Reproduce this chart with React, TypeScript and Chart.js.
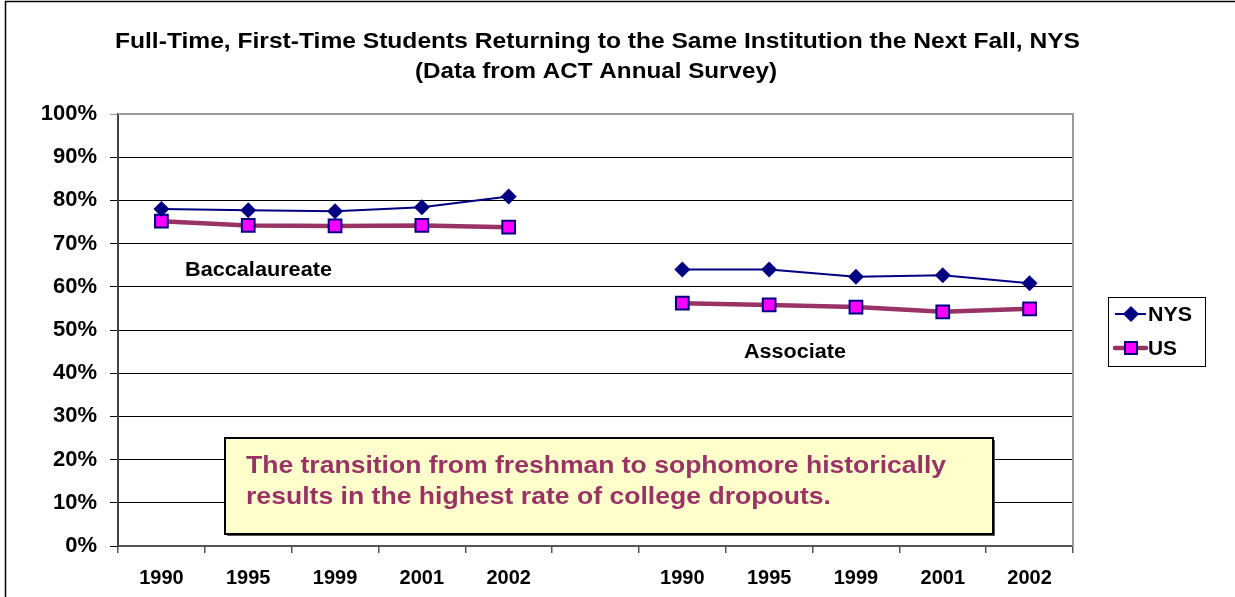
import React, { useEffect, useRef } from 'react';
import { Chart, registerables } from 'chart.js';

Chart.register(...registerables);

const categories = ['1990', '1995', '1999', '2001', '2002', '', '1990', '1995', '1999', '2001', '2002'];
const nysValues: (number | null)[] = [78.0, 77.7, 77.5, 78.4, 80.9, null, 64.0, 64.0, 62.3, 62.7, 60.8];
const usValues: (number | null)[] = [75.2, 74.2, 74.1, 74.2, 73.8, null, 56.2, 55.8, 55.3, 54.2, 54.9];
const seriesNames = ['NYS', 'US'];
const titleLines = [
  'Full-Time, First-Time Students Returning to the Same Institution the Next Fall, NYS',
  '(Data from ACT Annual Survey)',
];
const groupLabels = ['Baccalaureate', 'Associate'];
const noteLines = [
  'The transition from freshman to sophomore historically',
  'results in the highest rate of college dropouts.',
];

const FONT = '"Liberation Sans", Arial, Helvetica, sans-serif';
const NAVY = '#000080';
const PLUM = '#993366';
const MAGENTA = '#FF00FF';

function fitText(ctx: any, text: string, x: number, y: number, w: number) {
  // draw text horizontally scaled to width w starting at x (left aligned)
  const m = ctx.measureText(text).width;
  ctx.save();
  ctx.translate(x, y);
  ctx.scale(w / m, 1);
  ctx.fillText(text, 0, 0);
  ctx.restore();
}

const decorPlugin = {
  id: 'decor',
  beforeDraw(chart: any) {
    const { ctx, width, height } = chart;
    ctx.save();
    ctx.fillStyle = '#ffffff';
    ctx.fillRect(0, 0, width, height);
    ctx.strokeStyle = '#000000';
    ctx.lineWidth = 1.5;
    ctx.strokeRect(5.5, 1.5, width + 10, height + 10);
    ctx.restore();
  },
  afterDatasetsDraw(chart: any) {
    const { ctx, chartArea } = chart;
    ctx.save();
    // plot frame (top/right)
    ctx.strokeStyle = '#999999';
    ctx.lineWidth = 2;
    ctx.beginPath();
    ctx.moveTo(chartArea.left, chartArea.top);
    ctx.lineTo(chartArea.right, chartArea.top);
    ctx.lineTo(chartArea.right, chartArea.bottom);
    ctx.stroke();

    // title
    ctx.fillStyle = '#000000';
    ctx.textAlign = 'left';
    ctx.textBaseline = 'middle';
    ctx.font = `bold 22px ${FONT}`;
    fitText(ctx, titleLines[0], 115, 42, 965);
    fitText(ctx, titleLines[1], 415, 72, 362);

    // group labels
    ctx.font = `bold 20px ${FONT}`;
    fitText(ctx, groupLabels[0], 185, 270, 147);
    fitText(ctx, groupLabels[1], 744, 352, 102);

    // note box
    const bx = 225, by = 438, bw = 768, bh = 96;
    ctx.fillStyle = '#555555';
    ctx.fillRect(bx + 2, by + 2, bw, bh);
    ctx.fillStyle = '#FFFFCC';
    ctx.fillRect(bx, by, bw, bh);
    ctx.strokeStyle = '#000000';
    ctx.lineWidth = 2;
    ctx.strokeRect(bx, by, bw, bh);
    ctx.fillStyle = PLUM;
    ctx.font = `bold 24px ${FONT}`;
    fitText(ctx, noteLines[0], 246, 466, 700);
    fitText(ctx, noteLines[1], 246, 497, 585);

    // legend
    const lx = 1108, ly = 297, lw = 97, lh = 69;
    ctx.fillStyle = '#ffffff';
    ctx.fillRect(lx, ly, lw, lh);
    ctx.strokeStyle = '#000000';
    ctx.lineWidth = 1;
    ctx.strokeRect(lx + 0.5, ly + 0.5, lw, lh);
    const rows = [314, 348];
    // NYS
    ctx.strokeStyle = NAVY;
    ctx.lineWidth = 2;
    ctx.beginPath();
    ctx.moveTo(1115, rows[0]);
    ctx.lineTo(1146, rows[0]);
    ctx.stroke();
    ctx.fillStyle = NAVY;
    ctx.beginPath();
    ctx.moveTo(1131, rows[0] - 8);
    ctx.lineTo(1139, rows[0]);
    ctx.lineTo(1131, rows[0] + 8);
    ctx.lineTo(1123, rows[0]);
    ctx.closePath();
    ctx.fill();
    // US
    ctx.strokeStyle = PLUM;
    ctx.lineWidth = 4.5;
    ctx.lineCap = 'round';
    ctx.beginPath();
    ctx.moveTo(1115, rows[1]);
    ctx.lineTo(1146, rows[1]);
    ctx.stroke();
    ctx.lineCap = 'butt';
    ctx.fillStyle = MAGENTA;
    ctx.fillRect(1125, rows[1] - 6, 12, 12);
    ctx.strokeStyle = NAVY;
    ctx.lineWidth = 2;
    ctx.strokeRect(1125, rows[1] - 6, 12, 12);
    ctx.fillStyle = '#000000';
    ctx.font = `bold 20px ${FONT}`;
    fitText(ctx, seriesNames[0], 1148, rows[0] + 1, 44);
    fitText(ctx, seriesNames[1], 1148, rows[1] + 1, 29);
    ctx.restore();
  },
};

export default function App() {
  const ref = useRef<HTMLCanvasElement | null>(null);
  useEffect(() => {
    if (!ref.current) return;
    const chart = new Chart(ref.current, {
      type: 'line',
      data: {
        labels: categories,
        datasets: [
          {
            label: seriesNames[0],
            data: nysValues,
            borderColor: NAVY,
            backgroundColor: NAVY,
            borderWidth: 2,
            pointStyle: 'rectRot',
            pointRadius: 8,
            pointBorderWidth: 0,
            pointBackgroundColor: NAVY,
            pointBorderColor: NAVY,
            spanGaps: false,
            tension: 0,
          },
          {
            label: seriesNames[1],
            data: usValues,
            borderColor: PLUM,
            backgroundColor: MAGENTA,
            borderWidth: 4.5,
            pointStyle: 'rect',
            pointRadius: 9,
            pointBorderWidth: 2,
            pointBackgroundColor: MAGENTA,
            pointBorderColor: NAVY,
            spanGaps: false,
            tension: 0,
          },
        ],
      },
      options: {
        responsive: false,
        animation: false,
        layout: { padding: { left: 0, right: 162, top: 114, bottom: 0 } },
        plugins: {
          legend: { display: false },
          title: { display: false },
          tooltip: { enabled: false },
        },
        scales: {
          x: {
            type: 'category',
            offset: true,
            afterFit: (s: any) => {
              s.height = 51;
            },
            grid: {
              offset: true,
              drawOnChartArea: false,
              drawTicks: true,
              tickLength: 7,
              color: '#555555',
              lineWidth: 1.5,
            },
            border: { color: '#555555', width: 2 },
            ticks: {
              color: '#000000',
              font: { family: FONT, size: 20, weight: 'bold' },
              padding: 13,
              maxRotation: 0,
              autoSkip: false,
            },
          },
          y: {
            min: 0,
            max: 100,
            afterFit: (s: any) => {
              s.width = 118;
            },
            grid: {
              color: (c: any) => (c.tick && c.tick.value === 100 ? '#999999' : '#000000'),
              lineWidth: 1,
              tickLength: 8,
            },
            border: { color: '#444444', width: 2 },
            ticks: {
              stepSize: 10,
              color: '#000000',
              font: { family: FONT, size: 22, weight: 'bold' },
              padding: 13,
              callback: (v: any) => `${v}%`,
            },
          },
        },
      },
      plugins: [decorPlugin],
    } as any);
    return () => chart.destroy();
  }, []);
  return (
    <div style={{ position: 'fixed', left: 0, top: 0, width: 1235, height: 597, background: '#fff' }}>
      <canvas ref={ref} width={1235} height={597} style={{ display: 'block', width: 1235, height: 597 }} />
    </div>
  );
}
